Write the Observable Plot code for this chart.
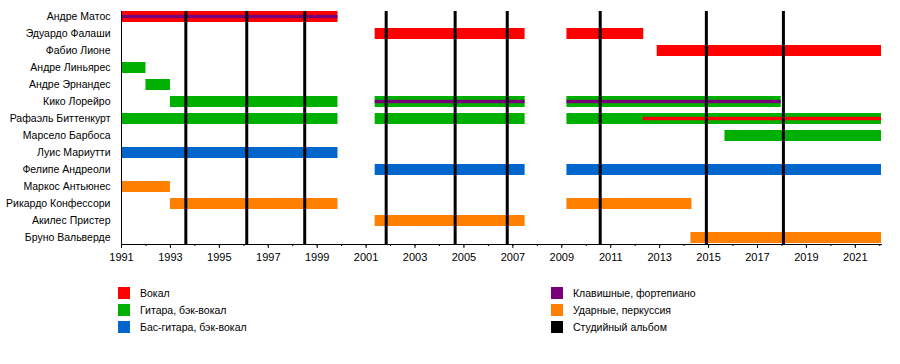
<!DOCTYPE html>
<html><head><meta charset="utf-8">
<script src="https://cdn.jsdelivr.net/npm/d3@7"></script>
<script src="https://cdn.jsdelivr.net/npm/@observablehq/plot@0.6"></script>
<style>
body{margin:0;background:#fff;font-family:"Liberation Sans",Arial,sans-serif;}
#chart svg{display:block;}
#legend{position:relative;width:900px;height:94px;font-size:10.5px;color:#000;}
.item{position:absolute;display:flex;align-items:center;height:12px;white-space:nowrap;}
.sw{width:12px;height:12px;margin-right:10px;flex:none;}
</style></head><body><div id="chart"></div><div id="legend"></div>
<script>
const members = ["Андре Матос","Эдуардо Фалаши","Фабио Лионе","Андре Линьярес","Андре Эрнандес","Кико Лорейро","Рафаэль Биттенкурт","Марсело Барбоса","Луис Мариутти","Фелипе Андреоли","Маркос Антьюнес","Рикардо Конфессори","Акилес Пристер","Бруно Вальверде"];
const roles = ["Вокал","Гитара, бэк-вокал","Бас-гитара, бэк-вокал","Клавишные, фортепиано","Ударные, перкуссия","Студийный альбом"];
const roleColors = ["#ff0000","#00b000","#0066cc","#780078","#ff8000","#000000"];
// [member, start, end, role]
const stints = [
  ["Андре Матос",1991,1999.85,"Вокал"],
  ["Эдуардо Фалаши",2001.37,2007.5,"Вокал"],
  ["Эдуардо Фалаши",2009.21,2012.35,"Вокал"],
  ["Фабио Лионе",2012.9,2022.07,"Вокал"],
  ["Андре Линьярес",1991,1992,"Гитара, бэк-вокал"],
  ["Андре Эрнандес",1992,1993,"Гитара, бэк-вокал"],
  ["Кико Лорейро",1993,1999.85,"Гитара, бэк-вокал"],
  ["Кико Лорейро",2001.37,2007.5,"Гитара, бэк-вокал"],
  ["Кико Лорейро",2009.21,2017.97,"Гитара, бэк-вокал"],
  ["Рафаэль Биттенкурт",1991,1999.85,"Гитара, бэк-вокал"],
  ["Рафаэль Биттенкурт",2001.37,2007.5,"Гитара, бэк-вокал"],
  ["Рафаэль Биттенкурт",2009.21,2022.07,"Гитара, бэк-вокал"],
  ["Марсело Барбоса",2015.67,2022.07,"Гитара, бэк-вокал"],
  ["Луис Мариутти",1991,1999.85,"Бас-гитара, бэк-вокал"],
  ["Фелипе Андреоли",2001.37,2007.5,"Бас-гитара, бэк-вокал"],
  ["Фелипе Андреоли",2009.21,2022.07,"Бас-гитара, бэк-вокал"],
  ["Маркос Антьюнес",1991,1993,"Ударные, перкуссия"],
  ["Рикардо Конфессори",1993,1999.85,"Ударные, перкуссия"],
  ["Рикардо Конфессори",2009.21,2014.32,"Ударные, перкуссия"],
  ["Акилес Пристер",2001.37,2007.5,"Ударные, перкуссия"],
  ["Бруно Вальверде",2014.28,2022.07,"Ударные, перкуссия"]
];
// secondary roles drawn as thin stripes
const stripes = [
  ["Андре Матос",1991,1999.85,"Клавишные, фортепиано"],
  ["Кико Лорейро",2001.37,2007.5,"Клавишные, фортепиано"],
  ["Кико Лорейро",2009.21,2017.97,"Клавишные, фортепиано"],
  ["Рафаэль Биттенкурт",2012.33,2022.07,"Вокал"]
];
const albums = [1993.63,1996.12,1998.49,2001.82,2004.64,2006.77,2010.57,2014.91,2018.06];
const majorTicks = [1991,1993,1995,1997,1999,2001,2003,2005,2007,2009,2011,2013,2015,2017,2019,2021];
const minorTicks = [1991,1992,1993,1994,1995,1996,1997,1998,1999,2000,2001,2002,2003,2004,2005,2006,2007,2008,2009,2010,2011,2012,2013,2014,2015,2016,2017,2018,2019,2020,2021,2022];
const xDomain = [1991, 2022.07];

const toRows = a => a.map(([member,start,end,role]) => ({member,start,end,role}));

const chart = Plot.plot({
  width: 900, height: 270,
  marginLeft: 121, marginRight: 19, marginTop: 11, marginBottom: 26,
  style: {fontFamily: "'Liberation Sans', Arial, sans-serif", fontSize: "10.5px", background: "white", color: "black"},
  x: {domain: xDomain, label: null},
  y: {domain: members, paddingInner: 0.33, paddingOuter: 0, label: null},
  color: {domain: roles, range: roleColors},
  marks: [
    Plot.barX(toRows(stints), {x1: "start", x2: "end", y: "member", fill: "role"}),
    Plot.barX(toRows(stripes), {x1: "start", x2: "end", y: "member", fill: "role", insetTop: 3.8, insetBottom: 3.8}),
    Plot.ruleX(albums, {stroke: "black", strokeWidth: 3}),
    Plot.frame({anchor: "left", stroke: "black"}),
    Plot.frame({anchor: "bottom", stroke: "black"}),
    Plot.axisX({ticks: minorTicks, tickSize: 2, tickFormat: () => "", label: null}),
    Plot.axisX({ticks: majorTicks, tickSize: 4, tickPadding: 5, tickFormat: "d", label: null,
      fontFamily: "'Liberation Sans Narrow', 'Arial Narrow', 'Liberation Sans', sans-serif", fontSize: 11}),
    Plot.axisY({tickSize: 0, tickPadding: 11, label: null})
  ]
});
document.getElementById("chart").append(chart);

const legend = document.getElementById("legend");
const legendPos = [[118,17],[118,34],[118,51],[551,17],[551,34],[551,51]];
const legendOrder = [0,1,2,3,4,5];
legendOrder.forEach((ri, k) => {
  const it = document.createElement("div");
  it.className = "item";
  it.style.left = legendPos[k][0] + "px";
  it.style.top = legendPos[k][1] + "px";
  const sw = document.createElement("div");
  sw.className = "sw";
  sw.style.background = roleColors[ri];
  const tx = document.createElement("span");
  tx.textContent = roles[ri];
  it.append(sw, tx);
  legend.append(it);
});
</script></body></html>
